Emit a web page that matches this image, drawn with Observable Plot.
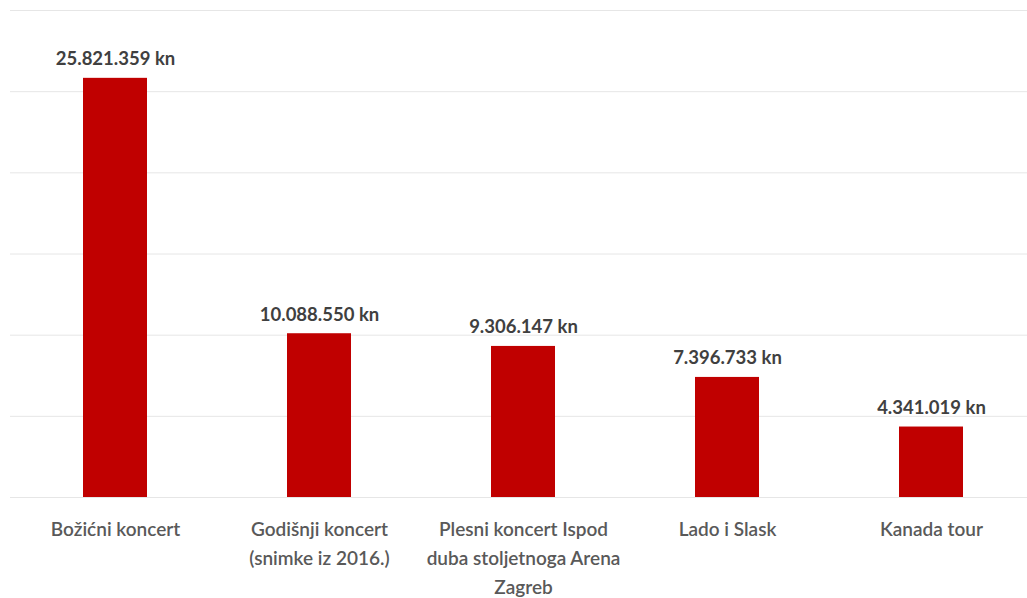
<!DOCTYPE html>
<html><head><meta charset="utf-8">
<script src="https://cdn.jsdelivr.net/npm/d3@7"></script>
<script src="https://cdn.jsdelivr.net/npm/@observablehq/plot@0.6"></script>
<style>body{margin:0;background:#fff;} svg{display:block;}</style>
</head><body><div id="chart"></div>
<script>
const categories = ["Božićni koncert", "Godišnji koncert\n(snimke iz 2016.)", "Plesni koncert Ispod\nduba stoljetnoga Arena\nZagreb", "Lado i Slask", "Kanada tour"];
const values = [25821359, 10088550, 9306147, 7396733, 4341019];
const valueLabels = ["25.821.359 kn", "10.088.550 kn", "9.306.147 kn", "7.396.733 kn", "4.341.019 kn"];
const gridTicks = [0, 5000000, 10000000, 15000000, 20000000, 25000000, 30000000];

const data = categories.map((c, i) => ({cat: c, value: values[i], label: valueLabels[i]}));

const chart = Plot.plot({
  width: 1027,
  height: 598,
  marginLeft: 10,
  marginRight: 0,
  marginTop: 10,
  marginBottom: 101,
  style: {fontFamily: "Lato, 'Open Sans', sans-serif", background: "#fff"},
  x: {domain: categories, range: [14, 1031], paddingInner: 0.6867, paddingOuter: 0.3326, label: null},
  y: {domain: [0, 30000000], axis: null},
  marks: [
    Plot.ruleY(gridTicks, {stroke: "#e6e6e6", strokeWidth: 1}),
    Plot.barY(data, {x: "cat", y: "value", fill: "#c00000"}),
    Plot.text(data, {x: "cat", y: "value", text: "label", dy: -19, fontSize: 18.5, fontWeight: "bold", fill: "#404040"}),
    Plot.axisX({tickSize: 0, tickPadding: 18, fontSize: 19, lineHeight: 1.52, fill: "#595959", fontWeight: 600, label: null})
  ]
});
document.getElementById("chart").append(chart);
</script></body></html>
